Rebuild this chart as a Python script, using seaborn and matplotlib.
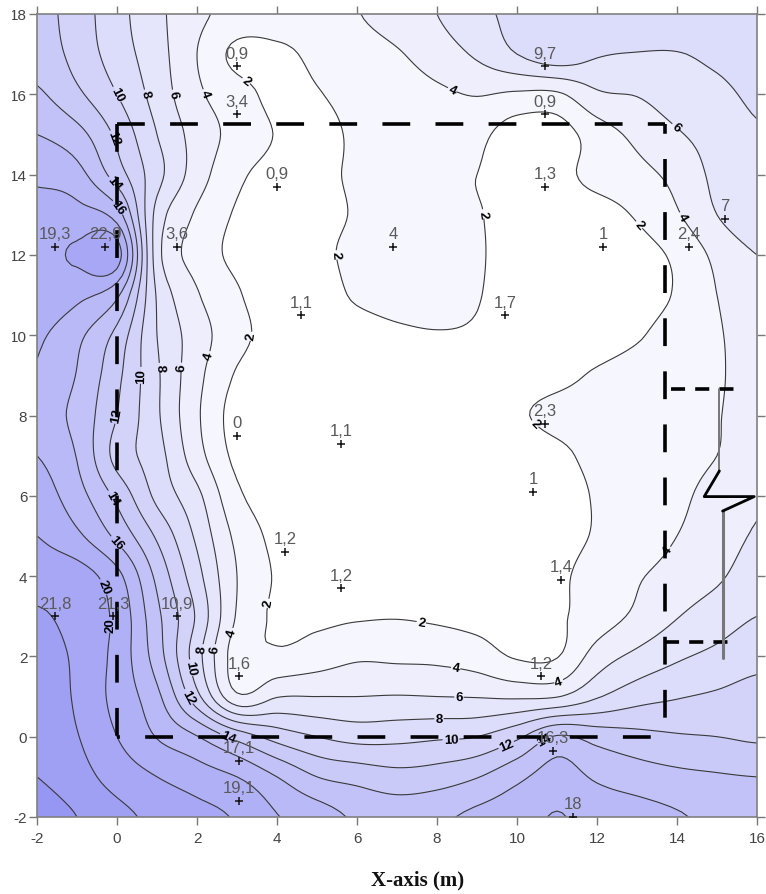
import numpy as np
import pandas as pd
import seaborn as sns
import matplotlib
matplotlib.use("Agg")
import matplotlib.pyplot as plt
from matplotlib.colors import LinearSegmentedColormap
from matplotlib.patches import Rectangle

grid_x = list(range(-2, 17))
grid_y = list(range(18, -3, -1))
row_18 = [12.8, 11, 8.7, 6.5, 4.5, 3.3, 3, 3, 3.9, 5, 6, 7.4, 8.6, 9.4, 9.7, 9.7, 9.7, 9.7, 9.7]
row_17 = [13.2, 11.3, 9, 6.8, 4, 1.5, 1.6, 2.4, 3, 3.8, 5, 6.3, 8, 9.3, 8.2, 7.9, 7.9, 8.5, 9.2]
row_16 = [14.3, 12.4, 10, 7.2, 4.4, 2.8, 1.5, 1.9, 2.6, 3, 3.6, 4.1, 3.7, 3.7, 5.7, 6.1, 7, 7.5, 8.4]
row_15 = [16, 14.7, 11.6, 8, 5.2, 3.3, 1.9, 1.5, 2.3, 2.8, 2.8, 2.5, 1.0, 1.1, 3, 4.5, 5.8, 6.8, 7.8]
row_14 = [17.5, 16.7, 13, 8.7, 5, 2.4, 1.5, 1.7, 2.2, 2.6, 2.4, 2, 1.4, 1.5, 2.6, 3.4, 4.6, 6.5, 7.5]
row_13 = [19, 18.7, 17, 7.3, 3.7, 1.8, 1.3, 1.6, 2.1, 2.3, 2.2, 2.1, 1.3, 1.3, 1.3, 2.2, 3.8, 6, 7.4]
row_12 = [19.3, 20.3, 21, 6.9, 3.2, 1.6, 1.2, 1.7, 2.3, 2.6, 2.6, 2.2, 1.2, 1, 1, 1.3, 2.4, 4.5, 6]
row_11 = [19.3, 18.5, 16.4, 7.8, 4.2, 2.2, 1.1, 1.3, 2.2, 2.6, 2.6, 2.1, 1.2, 1.1, 1.1, 1.2, 2.2, 4, 5.5]
row_10 = [18.3, 16.5, 13.4, 8, 5, 2.6, 1.3, 1.1, 1.3, 1.7, 1.9, 1.8, 1.3, 1.1, 1.2, 1.8, 2.9, 3.8, 5]
row_9 = [17.8, 15.9, 12.5, 8.3, 4.6, 1.8, 1.1, 1.1, 1.1, 1.1, 1.2, 1.3, 1.4, 1.6, 2.2, 2.8, 3.3, 3.8, 4.8]
row_8 = [17, 15.4, 12, 8.3, 4.3, 1.2, 1, 1, 1, 1, 1, 1.2, 1.8, 2.4, 2.7, 3, 3.3, 3.9, 4.8]
row_7 = [18, 15.9, 11.3, 8.8, 4.8, 1.5, 1, 1, 1, 1, 1, 1, 1.1, 1.6, 2.5, 2.9, 3.3, 4, 4.9]
row_6 = [19, 16.8, 13.5, 9.5, 6.5, 2.4, 1.1, 1, 1, 1, 1, 1, 1, 1.1, 2.2, 3, 3.6, 4.7, 5.7]
row_5 = [20, 18.4, 15.5, 11.7, 7.6, 3.5, 1.5, 1, 1, 1, 1, 1, 1.1, 1.2, 2.2, 2.9, 4, 5, 6.2]
row_4 = [21, 20.9, 18.6, 13.5, 8.7, 4, 1.8, 1.1, 1.1, 1.1, 1.1, 1.1, 1.2, 1.6, 2.9, 3.8, 4.8, 5.7, 7]
row_3 = [22.3, 21.2, 19.5, 14.5, 9.7, 3.8, 1.7, 1.6, 1.8, 1.9, 1.7, 1.4, 1.2, 1.7, 3, 4.4, 5.9, 7, 8]
row_2 = [23, 21.6, 19.3, 15, 8.8, 3, 2.4, 3, 3.7, 3.6, 3.5, 3, 1.8, 1.9, 4.9, 6.5, 7.7, 8.5, 9.3]
row_1 = [23.4, 21.7, 19.3, 16.5, 10.6, 4.4, 5.9, 6, 6, 6.1, 6, 5.9, 5.7, 5.9, 7.8, 9.2, 9.85, 10.3, 10.8]
row_0 = [23.5, 22.1, 20, 17.9, 16.1, 13.3, 11.2, 10, 9.3, 9.4, 9.7, 10, 11.6, 14.2, 13.2, 12.6, 12.2, 12, 11.7]
row_m1 = [24, 22.8, 21.2, 20, 19, 18, 16, 14, 13.3, 12.7, 13, 13.9, 15.5, 16.9, 15.7, 15, 14.5, 14.2, 14]
row_m2 = [25, 24, 22.6, 21.5, 20.6, 19.8, 18.1, 17, 15.7, 15.2, 15.6, 16.5, 17.2, 18.1, 17.2, 16.8, 16.2, 15.5, 15]

pt_x = [3.0, 3.0, 4.0, 1.5, -1.55, -0.3, 4.6, 6.9, 9.7, 10.7, 10.7, 10.7, 12.15, 14.3, 15.2,
        3.0, 5.6, 10.7, 10.4, 4.2, 5.6, 11.1, -1.55, -0.1, 1.5, 3.05, 10.6, 3.05, 3.05, 10.9, 11.4]
pt_y = [16.7, 15.5, 13.7, 12.2, 12.2, 12.2, 10.5, 12.2, 10.5, 16.7, 15.5, 13.7, 12.2, 12.2, 12.9,
        7.5, 7.3, 7.8, 6.1, 4.6, 3.7, 3.9, 3.0, 3.0, 3.0, 1.5, 1.5, -0.6, -1.6, -0.35, -2.0]
pt_text = ["0,9", "3,4", "0,9", "3,6", "19,3", "22,9", "1,1", "4", "1,7", "9,7", "0,9", "1,3", "1", "2,4", "7",
           "0", "1,1", "2,3", "1", "1,2", "1,2", "1,4", "21,8", "21,3", "10,9", "1,6", "1,2", "17,1", "19,1", "16,3", "18"]
x_ticks = list(range(-2, 17, 2))
y_ticks = list(range(-2, 19, 2))
levels = list(range(0, 28, 2))
label_spots = [(0.0, 16.0), (0.7, 16.0), (1.4, 16.0), (2.15, 16.0), (3.05, 16.1), (-0.1, 14.9), (-0.05, 13.8),
               (-0.1, 13.1), (5.45, 12.0), (3.2, 10.0), (2.25, 9.5), (1.65, 9.2), (1.15, 9.2), (0.6, 9.0),
               (0.0, 8.0), (-0.2, 5.9), (-0.15, 4.7), (-0.15, 3.8), (-0.05, 2.8), (3.9, 3.3), (2.85, 2.6),
               (2.35, 2.2), (2.05, 2.2), (1.75, 1.7), (1.7, 0.95), (2.75, -0.05), (8.35, 16.05), (9.0, 13.0),
               (13.0, 12.7), (14.2, 15.45), (14.2, 13.0), (13.75, 4.65), (7.6, 2.8), (8.45, 1.6), (8.55, 1.0),
               (8.05, 0.45), (8.35, -0.1), (9.75, -0.25), (10.7, -0.1), (10.35, 7.7), (11.0, 1.5)]


def cubic_kernel(t):
    t = np.abs(t)
    return np.where(t < 1, 1.5 * t**3 - 2.5 * t**2 + 1,
                    np.where(t < 2, -0.5 * t**3 + 2.5 * t**2 - 4 * t + 2, 0.0))


def refine(values, n):
    size = values.shape[0]
    fine = np.linspace(0, size - 1, (size - 1) * n + 1)
    pad = np.pad(values, ((2, 2), (0, 0)), mode="edge")
    idx = np.arange(size + 4)[None, :]
    w = cubic_kernel(fine[:, None] + 2 - idx)
    return w @ pad


Z = np.array([row_18, row_17, row_16, row_15, row_14, row_13, row_12, row_11, row_10, row_9, row_8,
              row_7, row_6, row_5, row_4, row_3, row_2, row_1, row_0, row_m1, row_m2], dtype=float)[::-1]
N = 8
Zf = refine(refine(Z, N).T, N).T
gx = np.linspace(grid_x[0], grid_x[-1], Zf.shape[1])
gy = np.linspace(min(grid_y), max(grid_y), Zf.shape[0])

sns.set_theme(style="white")
plt.rcParams["font.family"] = ["Liberation Sans", "DejaVu Sans"]
plt.rcParams["axes.unicode_minus"] = False
fig = plt.figure(figsize=(7.66, 8.95), dpi=100)
ax = fig.add_axes([37 / 766, (895 - 818) / 895, 720 / 766, 803 / 895])

cmap = LinearSegmentedColormap.from_list("blues", ["#ffffff", (150 / 255, 150 / 255, 243 / 255)])
ax.contourf(gx, gy, Zf, levels=levels, cmap=cmap, vmin=1, vmax=25, extend="both")
cs = ax.contour(gx, gy, Zf, levels=levels[1:], colors="#3a3a3a", linewidths=0.8)
ax.clabel(cs, fmt="%d", fontsize=9.5, colors="black", inline=True, inline_spacing=1, manual=label_spots)
for t in ax.texts:
    t.set_fontweight("bold")

points = pd.DataFrame({"x": pt_x, "y": pt_y})
sns.scatterplot(data=points, x="x", y="y", marker="+", color="#111111", s=30, linewidth=1.1, ax=ax, zorder=5)
for px, py, s in zip(pt_x, pt_y, pt_text):
    ax.text(px, py + 0.14, s, ha="center", va="bottom", fontsize=12, color="#5a5a5a", zorder=6)

LW = 2.6
long_dash = (7.7, 7.0)
ax.plot([0, 13.7], [15.25, 15.25], color="black", lw=LW, linestyle=(0, long_dash), dash_capstyle="butt", zorder=4)
ax.plot([0, 0], [15.25, 0], color="black", lw=LW, linestyle=(0, long_dash), dash_capstyle="butt", zorder=4)
ax.plot([13.7, 13.7], [15.25, 0.35], color="black", lw=LW, linestyle=(5.0, long_dash), dash_capstyle="butt", zorder=4)
ax.plot([0, 13.4], [0, 0], color="black", lw=LW, linestyle=(6.9, long_dash), dash_capstyle="butt", zorder=4)
short_dash = (3.9, 2.8)
ax.plot([13.85, 15.45], [8.65, 8.65], color="black", lw=LW, linestyle=(0, short_dash), dash_capstyle="butt", zorder=4)
ax.plot([13.7, 15.45], [2.37, 2.37], color="black", lw=LW, linestyle=(0, short_dash), dash_capstyle="butt", zorder=4)
ax.plot([15.06, 15.06], [8.65, 6.62], color="#777777", lw=1.4, zorder=4)
ax.plot([15.14, 15.14], [5.62, 1.95], color="#777777", lw=2.2, zorder=4)
ax.plot([15.06, 14.68, 15.93, 15.14], [6.62, 5.98, 5.98, 5.62], color="black", lw=2.0, zorder=4)

ax.set_xlim(-2, 16)
ax.set_ylim(-2, 18)
ax.set_xticks(x_ticks)
ax.set_yticks(y_ticks)
ax.tick_params(axis="both", direction="out", length=6, width=1, color="#777777", labelcolor="#444444",
               labelsize=11, left=True, bottom=True, top=True, right=True)
ax.tick_params(axis="x", pad=4)
ax.tick_params(axis="y", pad=1)
for side in ax.spines.values():
    side.set_visible(True)
    side.set_color("#808080")
    side.set_linewidth(1.2)
ax.set_xlabel("X-axis (m)", family="Liberation Serif", fontweight="bold", fontsize=15, color="#111111",
              x=0.528, labelpad=18)
ax.set_ylabel("")
fig.add_artist(Rectangle((0, 0), 11 / 766, 1, transform=fig.transFigure, color="white", zorder=20))
fig.savefig("out.png", dpi=100)
